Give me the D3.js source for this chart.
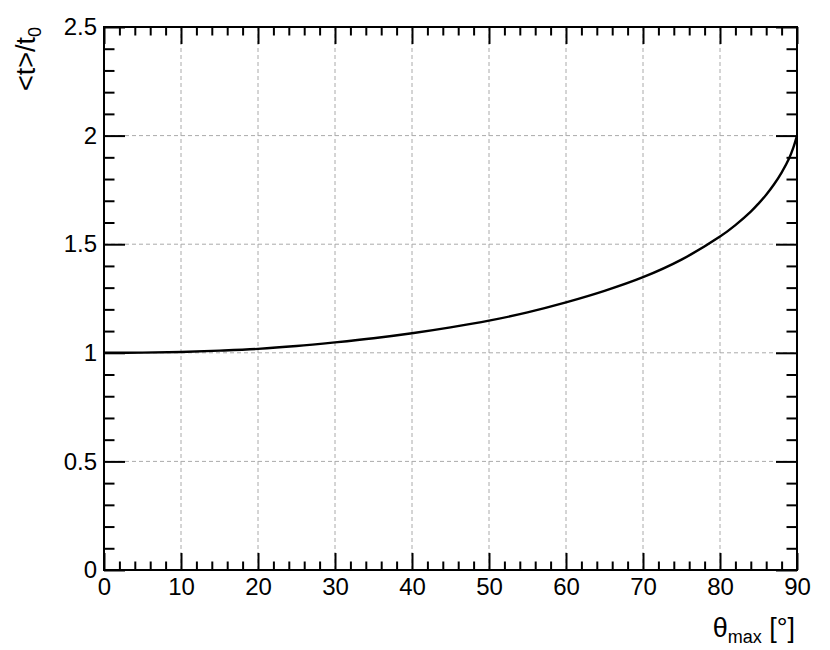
<!DOCTYPE html>
<html>
<head>
<meta charset="utf-8">
<script src="https://cdn.jsdelivr.net/npm/d3@7"></script>
<style>
  html, body { margin: 0; padding: 0; background: #fff; }
  svg { display: block; }
  text { font-family: "Liberation Sans", Arial, Helvetica, sans-serif; fill: #000; }
</style>
</head>
<body>
<svg id="chart" width="830" height="650"></svg>
<script>
// ---- data ----
const thetaMax = [0, 5, 10, 15, 20, 25, 30, 35, 40, 45, 50, 55, 60, 65, 70, 75, 80, 82, 84, 85, 86, 87, 88, 89, 89.5, 90];
const tRatio   = [1.000, 1.001, 1.004, 1.010, 1.018, 1.031, 1.048, 1.067, 1.090, 1.117, 1.148, 1.186, 1.232, 1.285, 1.348, 1.429, 1.535, 1.588, 1.650, 1.687, 1.728, 1.775, 1.830, 1.897, 1.942, 2.000];
const xMajorTicks = [0, 10, 20, 30, 40, 50, 60, 70, 80, 90];
const yMajorTicks = [0, 0.5, 1, 1.5, 2, 2.5];
const yTickLabels = ["0", "0.5", "1", "1.5", "2", "2.5"];
const xGrid = [10, 20, 30, 40, 50, 60, 70, 80];
const yGrid = [0.5, 1, 1.5, 2];

const svg = d3.select("#chart");
const L = 104, R = 797, T = 27, B = 570;
const x = d3.scaleLinear().domain([0, 90]).range([L, R]);
const y = d3.scaleLinear().domain([0, 2.5]).range([B, T]);

const xMinor = d3.range(0, 90.001, 2).filter(v => v % 10 !== 0);
const yMinor = d3.range(0, 25.001, 1).map(v => v / 10).filter(v => Math.abs(v * 2 - Math.round(v * 2)) > 1e-6);

// grid
const grid = svg.append("g").attr("stroke", "#aaaaaa").attr("stroke-width", 1).attr("stroke-dasharray", "4,3");
grid.selectAll("line.vx").data(xGrid).join("line")
  .attr("x1", d => x(d)).attr("x2", d => x(d)).attr("y1", T).attr("y2", B);
grid.selectAll("line.hy").data(yGrid).join("line")
  .attr("x1", L).attr("x2", R).attr("y1", d => y(d)).attr("y2", d => y(d));

function styleAxis(g) {
  g.select(".domain").remove();
  g.selectAll(".tick line").attr("stroke", "#000").attr("stroke-width", 2);
  g.selectAll(".tick text").attr("font-size", 24).attr("fill", "#000");
}

// bottom axis (ticks inward)
svg.append("g").attr("transform", `translate(0,${B})`)
  .call(d3.axisBottom(x).tickValues(xMajorTicks).tickSize(-17).tickPadding(8).tickFormat(d3.format("d")))
  .call(styleAxis);
svg.append("g").attr("transform", `translate(0,${B})`)
  .call(d3.axisBottom(x).tickValues(xMinor).tickSize(-8.5).tickFormat(""))
  .call(styleAxis);
// top axis
svg.append("g").attr("transform", `translate(0,${T})`)
  .call(d3.axisTop(x).tickValues(xMajorTicks).tickSize(-17).tickFormat(""))
  .call(styleAxis);
svg.append("g").attr("transform", `translate(0,${T})`)
  .call(d3.axisTop(x).tickValues(xMinor).tickSize(-8.5).tickFormat(""))
  .call(styleAxis);
// left axis
svg.append("g").attr("transform", `translate(${L},0)`)
  .call(d3.axisLeft(y).tickValues(yMajorTicks).tickSize(-21).tickPadding(7).tickFormat((d, i) => yTickLabels[i]))
  .call(styleAxis);
svg.append("g").attr("transform", `translate(${L},0)`)
  .call(d3.axisLeft(y).tickValues(yMinor).tickSize(-10.5).tickFormat(""))
  .call(styleAxis);
// right axis
svg.append("g").attr("transform", `translate(${R},0)`)
  .call(d3.axisRight(y).tickValues(yMajorTicks).tickSize(-21).tickFormat(""))
  .call(styleAxis);
svg.append("g").attr("transform", `translate(${R},0)`)
  .call(d3.axisRight(y).tickValues(yMinor).tickSize(-10.5).tickFormat(""))
  .call(styleAxis);

// curve
const pts = thetaMax.map((t, i) => [t, tRatio[i]]);
svg.append("path").datum(pts)
  .attr("fill", "none").attr("stroke", "#000").attr("stroke-width", 2.4)
  .attr("stroke-linejoin", "round")
  .attr("d", d3.line().x(d => x(d[0])).y(d => y(d[1])).curve(d3.curveCatmullRom.alpha(0.5)));

// frame
svg.append("rect").attr("x", L).attr("y", T).attr("width", R - L).attr("height", B - T)
  .attr("fill", "none").attr("stroke", "#000").attr("stroke-width", 2);

// x title
const xt = svg.append("text").attr("x", R - 2).attr("y", 637).attr("text-anchor", "end").attr("font-size", 27);
xt.append("tspan").text("θ");
xt.append("tspan").attr("font-size", 18).attr("dy", 6).text("max");
xt.append("tspan").attr("dy", -6).text(" [°]");

// y title
const yt = svg.append("text").attr("transform", `translate(35,${T}) rotate(-90)`)
  .attr("text-anchor", "end").attr("font-size", 27);
yt.append("tspan").text("<t>/t");
yt.append("tspan").attr("font-size", 18).attr("dy", 6).text("0");
</script>
</body>
</html>
